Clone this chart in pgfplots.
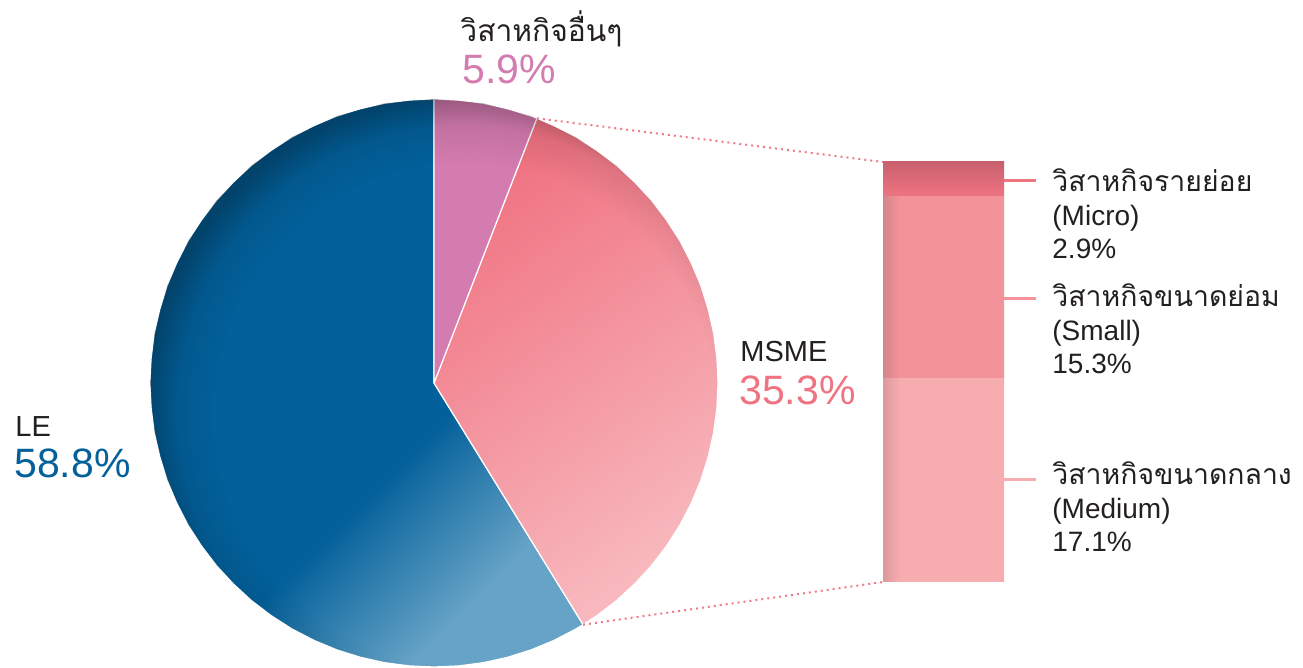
\documentclass[border=0pt]{standalone}
\usepackage{fontspec}
\setmainfont{Liberation Sans}
\newfontfamily\thaifont[Script=Thai]{Loma}
\usepackage{pgfplots}
\pgfplotsset{compat=1.18}
\usepgfplotslibrary{polar}
\usetikzlibrary{fadings}

\definecolor{txt}{HTML}{231F20}
\definecolor{LEblue}{HTML}{03609A}
\definecolor{LElight}{HTML}{66A3C6}
\definecolor{othpink}{HTML}{D47BB0}
\definecolor{msmeTop}{HTML}{F07382}
\definecolor{msmeBot}{HTML}{F8B9BE}
\definecolor{microTop}{HTML}{C9606E}
\definecolor{microBot}{HTML}{EF7482}
\definecolor{smallC}{HTML}{F4929A}
\definecolor{smallDark}{HTML}{D4858B}
\definecolor{mediumC}{HTML}{F7ACAF}
\definecolor{mediumDark}{HTML}{DC999C}
\definecolor{dotc}{HTML}{F07A88}

\pgfdeclareverticalshading{leshade}{100bp}{color(0bp)=(LElight); color(27bp)=(LElight); color(42bp)=(LEblue); color(100bp)=(LEblue)}
\pgfdeclareverticalshading{msmeshade}{100bp}{color(0bp)=(msmeBot); color(25bp)=(msmeBot); color(75bp)=(msmeTop); color(100bp)=(msmeTop)}
\pgfdeclarehorizontalshading{smallshade}{100bp}{color(0bp)=(smallDark); color(25bp)=(smallDark); color(32bp)=(smallC); color(100bp)=(smallC)}
\pgfdeclarehorizontalshading{mediumshade}{100bp}{color(0bp)=(mediumDark); color(25bp)=(mediumDark); color(32bp)=(mediumC); color(100bp)=(mediumC)}
% soft inner shadow along the rim of the pie, mostly at the upper left
\pgfdeclareradialshading{rimshade}{\pgfpoint{5bp}{-5bp}}{color(0bp)=(pgftransparent!100); color(22bp)=(pgftransparent!100); color(25bp)=(pgftransparent!75); color(27.5bp)=(pgftransparent!0); color(50bp)=(pgftransparent!0)}
\pgfdeclarefading{rimfade}{\pgfuseshading{rimshade}}

\begin{document}
\begin{tikzpicture}
% pie: 1 unit = 1 px, origin at the pie centre
\begin{axis}[
    width=651.5pt, height=334pt, scale only axis,
    xmin=-434, xmax=869, ymin=-285, ymax=383,
    hide axis, clip=false,
]
\path (axis cs:-434,-285) rectangle (axis cs:869,383);

% LE 58.8%
\addplot[draw=white, line width=0.6pt, shading=leshade, shading angle=45, data cs=polar] coordinates {
(0,0) (-58.32,284) (-60,284) (-65,284) (-70,284) (-75,284) (-80,284) (-85,284) (-90,284)
(-95,284) (-100,284) (-105,284) (-110,284) (-115,284) (-120,284) (-125,284) (-130,284)
(-135,284) (-140,284) (-145,284) (-150,284) (-155,284) (-160,284) (-165,284) (-170,284)
(-175,284) (-180,284) (-185,284) (-190,284) (-195,284) (-200,284) (-205,284) (-210,284)
(-215,284) (-220,284) (-225,284) (-230,284) (-235,284) (-240,284) (-245,284) (-250,284)
(-255,284) (-260,284) (-265,284) (-270,284) (0,0)
};
% MSME 35.3%
\addplot[draw=white, line width=0.6pt, shading=msmeshade, shading angle=35, data cs=polar] coordinates {
(0,0) (68.76,284) (65,284) (60,284) (55,284) (50,284) (45,284) (40,284) (35,284) (30,284)
(25,284) (20,284) (15,284) (10,284) (5,284) (0,284) (-5,284) (-10,284) (-15,284) (-20,284)
(-25,284) (-30,284) (-35,284) (-40,284) (-45,284) (-50,284) (-55,284) (-58.32,284) (0,0)
};
% other 5.9%
\addplot[draw=white, line width=0.6pt, fill=othpink, data cs=polar] coordinates {
(0,0) (90,284) (85,284) (80,284) (75,284) (70,284) (68.76,284) (0,0)
};
% rim shadow over the whole pie
\addplot[draw=none, fill=black, fill opacity=0.3, path fading=rimfade, data cs=polar] coordinates {
(0,284) (10,284) (20,284) (30,284) (40,284) (50,284) (60,284) (70,284) (80,284) (90,284)
(100,284) (110,284) (120,284) (130,284) (140,284) (150,284) (160,284) (170,284) (180,284)
(190,284) (200,284) (210,284) (220,284) (230,284) (240,284) (250,284) (260,284) (270,284)
(280,284) (290,284) (300,284) (310,284) (320,284) (330,284) (340,284) (350,284) (360,284)
};

% dotted connectors
\addplot[dotc, line width=1pt, dash pattern=on 1pt off 2pt] coordinates {(102.9,264.7) (449,221)};
\addplot[dotc, line width=1pt, dash pattern=on 1pt off 2pt] coordinates {(149.1,-241.7) (449,-199)};

% label ticks
\addplot[microBot, line width=1.5pt] coordinates {(570,202) (602,202)};
\addplot[smallC, line width=1.5pt] coordinates {(570,84) (602,84)};
\addplot[mediumC, line width=1.5pt] coordinates {(570,-97) (602,-97)};

\tikzset{lbl/.style={anchor=base west, inner sep=0pt}}
\node[lbl, text=txt, text depth=0pt, font=\thaifont\fontsize{15}{18}\selectfont] at (axis cs:26,341) {วิสาหกิจอื่นๆ};
\node[lbl, text=othpink, font=\fontsize{20.5}{24}\selectfont] at (axis cs:28,299) {5.9\%};
\node[lbl, text=txt, font=\fontsize{14.5}{17}\selectfont] at (axis cs:306,21) {MSME};
\node[lbl, text=msmeTop, font=\fontsize{20.5}{24}\selectfont] at (axis cs:305,-22) {35.3\%};
\node[lbl, text=txt, font=\fontsize{14.5}{17}\selectfont] at (axis cs:-419,-54) {LE};
\node[lbl, text=LEblue, font=\fontsize{20.5}{24}\selectfont] at (axis cs:-420,-95) {58.8\%};

\tikzset{rl/.style={lbl, text=txt, font=\fontsize{14}{16}\selectfont},
         rt/.style={lbl, text=txt, text depth=0pt, font=\thaifont\fontsize{14.2}{16}\selectfont}}
\node[rt] at (axis cs:618,191) {วิสาหกิจรายย่อย};
\node[rl] at (axis cs:618,157) {(Micro)};
\node[rl] at (axis cs:618,124) {2.9\%};
\node[rt] at (axis cs:618,76) {วิสาหกิจขนาดย่อม};
\node[rl] at (axis cs:618,42) {(Small)};
\node[rl] at (axis cs:618,9) {15.3\%};
\node[rt] at (axis cs:618,-102) {วิสาหกิจขนาดกลาง};
\node[rl] at (axis cs:618,-136) {(Medium)};
\node[rl] at (axis cs:618,-169) {17.1\%};
\end{axis}

% breakdown bar of MSME
\begin{axis}[
    width=651.5pt, height=334pt, scale only axis,
    xmin=0, xmax=1303, ymin=-7.228, ymax=48.916,
    hide axis, clip=false,
    ybar stacked, bar width=60.5pt, bar shift=0pt,
]
\addplot[draw=none, shading=mediumshade] coordinates {(943.5,17.1)};
\addplot[draw=none, shading=smallshade] coordinates {(943.5,15.3)};
\addplot[draw=none, top color=microTop, bottom color=microBot] coordinates {(943.5,2.9)};
\end{axis}
\end{tikzpicture}
\end{document}
